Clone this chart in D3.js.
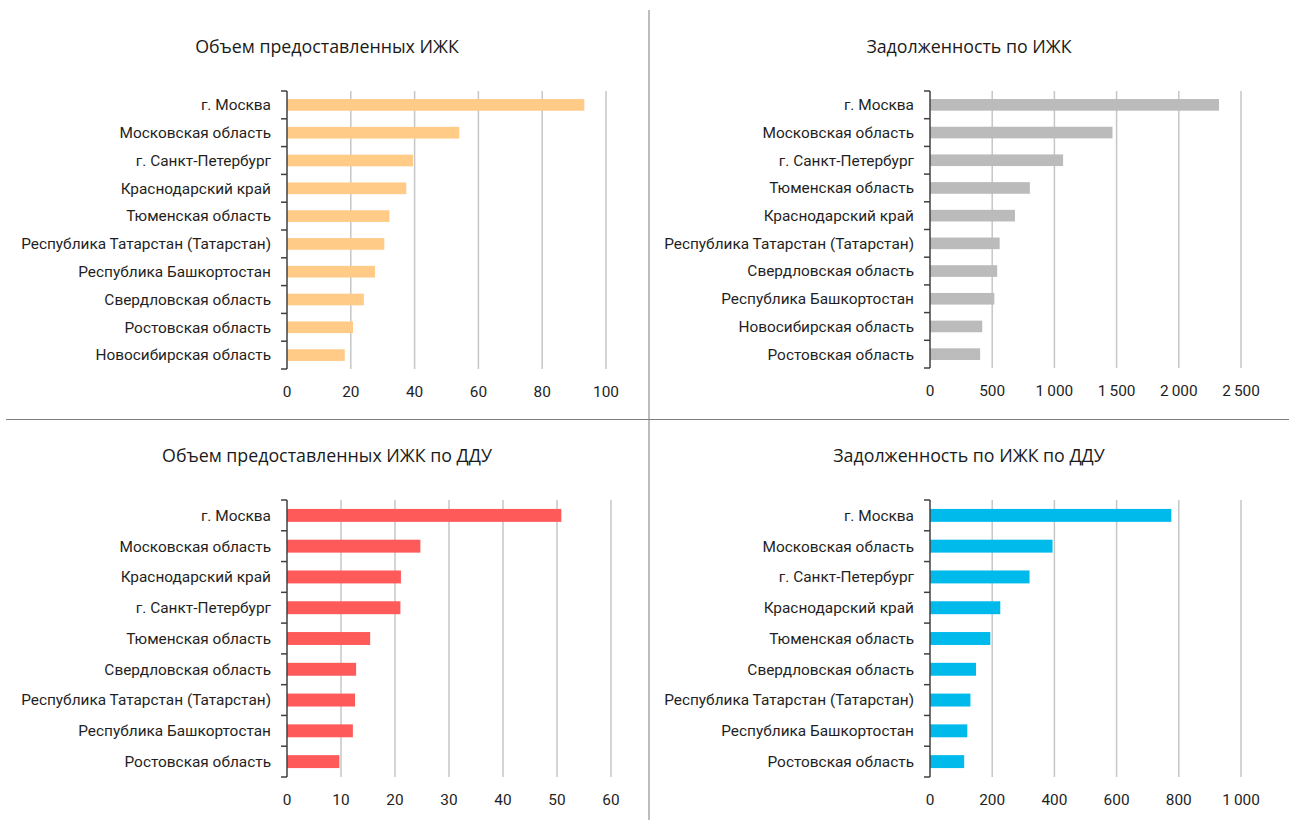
<!DOCTYPE html>
<html>
<head>
<meta charset="utf-8">
<script src="https://cdn.jsdelivr.net/npm/d3@7"></script>
<style>
  body { margin: 0; background: #fff; }
  svg { display: block; }
  .title { font-family: "Open Sans", sans-serif; font-size: 17.8px; fill: #1a1a1a; }
  .lbl { font-family: Roboto, sans-serif; font-size: 15.4px; fill: #1f1f1f; }
</style>
</head>
<body>
<svg id="chart" width="1289" height="820"></svg>
<script>
// ----------- Data ------------
const regions1 = ["г. Москва", "Московская область", "г. Санкт-Петербург", "Краснодарский край",
  "Тюменская область", "Республика Татарстан (Татарстан)", "Республика Башкортостан",
  "Свердловская область", "Ростовская область", "Новосибирская область"];
const values1 = [93.2, 54.0, 39.5, 37.4, 32.1, 30.5, 27.6, 24.1, 20.7, 18.1];

const regions2 = ["г. Москва", "Московская область", "г. Санкт-Петербург", "Тюменская область",
  "Краснодарский край", "Республика Татарстан (Татарстан)", "Свердловская область",
  "Республика Башкортостан", "Новосибирская область", "Ростовская область"];
const values2 = [2323, 1467, 1070, 803, 683, 560, 540, 517, 420, 403];

const regions3 = ["г. Москва", "Московская область", "Краснодарский край", "г. Санкт-Петербург",
  "Тюменская область", "Свердловская область", "Республика Татарстан (Татарстан)",
  "Республика Башкортостан", "Ростовская область"];
const values3 = [50.8, 24.7, 21.1, 21.0, 15.4, 12.8, 12.6, 12.2, 9.7];

const regions4 = ["г. Москва", "Московская область", "г. Санкт-Петербург", "Краснодарский край",
  "Тюменская область", "Свердловская область", "Республика Татарстан (Татарстан)",
  "Республика Башкортостан", "Ростовская область"];
const values4 = [776, 394, 320, 226, 194, 148, 130, 120, 110];

const ticks1 = [0, 20, 40, 60, 80, 100];
const ticks2 = [0, 500, 1000, 1500, 2000, 2500];
const ticks3 = [0, 10, 20, 30, 40, 50, 60];
const ticks4 = [0, 200, 400, 600, 800, 1000];

const titles = ["Объем предоставленных ИЖК", "Задолженность по ИЖК",
  "Объем предоставленных ИЖК по ДДУ", "Задолженность по ИЖК по ДДУ"];

// ----------- Panel layout ------------
const panels = [
  { title: titles[0], cats: regions1, vals: values1, ticks: ticks1, color: "#FFCB87",
    x0: 287, x1: 606, y0: 91, y1: 369, tx: 327, ty: 53 },
  { title: titles[1], cats: regions2, vals: values2, ticks: ticks2, color: "#BBBBBB",
    x0: 930, x1: 1241, y0: 91, y1: 368, tx: 969, ty: 53 },
  { title: titles[2], cats: regions3, vals: values3, ticks: ticks3, color: "#FF5A5A",
    x0: 287, x1: 611, y0: 500, y1: 777, tx: 327, ty: 462 },
  { title: titles[3], cats: regions4, vals: values4, ticks: ticks4, color: "#00BAEC",
    x0: 930, x1: 1241, y0: 500, y1: 777, tx: 969, ty: 462 }
];

const svg = d3.select("#chart");
const fmt = d => d3.format(",")(d).replace(/,/g, "\u2009");

// dividers
svg.append("line").attr("x1", 649).attr("x2", 649).attr("y1", 10).attr("y2", 820)
  .attr("stroke", "#bdbdbd").attr("stroke-width", 2);
svg.append("line").attr("x1", 6).attr("x2", 1289).attr("y1", 419.5).attr("y2", 419.5)
  .attr("stroke", "#808080").attr("stroke-width", 1);

panels.forEach(drawPanel);

// ----------- Draw one bar panel ------------
function drawPanel(p) {
  const g = svg.append("g");
  const x = d3.scaleLinear().domain([0, d3.max(p.ticks)]).range([p.x0, p.x1]);
  const y = d3.scaleBand().domain(p.cats).range([p.y0, p.y1]).padding(0);
  const barH = y.bandwidth() * 0.42;

  g.append("text").attr("class", "title")
    .attr("x", p.tx).attr("y", p.ty)
    .attr("text-anchor", "middle").text(p.title);

  // gridlines
  g.selectAll(".grid").data(p.ticks.slice(1)).enter().append("line")
    .attr("x1", d => x(d)).attr("x2", d => x(d))
    .attr("y1", p.y0).attr("y2", p.y1)
    .attr("stroke", "#c6c6c6").attr("stroke-width", 1.5);

  // bars
  g.selectAll(".bar").data(p.vals).enter().append("rect")
    .attr("x", x(0))
    .attr("y", (d, i) => y(p.cats[i]) + (y.bandwidth() - barH) / 2)
    .attr("width", d => x(d) - x(0))
    .attr("height", barH)
    .attr("fill", p.color);

  // y axis line and band ticks
  g.append("line").attr("x1", x(0)).attr("x2", x(0)).attr("y1", p.y0).attr("y2", p.y1)
    .attr("stroke", "#404040").attr("stroke-width", 1.5);
  const bounds = p.cats.map(c => y(c)).concat([p.y1]);
  g.selectAll(".ytick").data(bounds).enter().append("line")
    .attr("x1", x(0) - 6).attr("x2", x(0))
    .attr("y1", d => d).attr("y2", d => d)
    .attr("stroke", "#404040").attr("stroke-width", 1.5);

  // category labels
  g.selectAll(".cat").data(p.cats).enter().append("text").attr("class", "lbl")
    .attr("x", x(0) - 16)
    .attr("y", d => y(d) + y.bandwidth() / 2)
    .attr("dy", "0.35em")
    .attr("text-anchor", "end")
    .text(d => d);

  // value tick labels
  g.selectAll(".xt").data(p.ticks).enter().append("text").attr("class", "lbl")
    .attr("x", d => x(d))
    .attr("y", p.y1 + 23)
    .attr("dy", "0.35em")
    .attr("text-anchor", "middle")
    .text(fmt);
}
</script>
</body>
</html>
